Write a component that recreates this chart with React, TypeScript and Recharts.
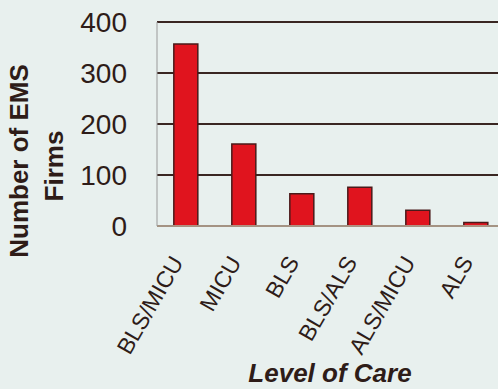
import { BarChart, Bar, XAxis, YAxis, CartesianGrid } from 'recharts'

const levels = ['BLS/MICU', 'MICU', 'BLS', 'BLS/ALS', 'ALS/MICU', 'ALS']
const firms = [357, 161, 63, 76, 31, 7]
const yTicks = [0, 100, 200, 300, 400]

const chartData = levels.map((level, i) => ({ level, firms: firms[i] }))

const ink = '#2e1c18'
const font = '"Liberation Sans", Arial, sans-serif'

function LevelTick({ x, y, payload }: any) {
  return (
    <text
      transform={`translate(${x - 2}, ${y + 28}) rotate(-60)`}
      textAnchor="end"
      fontSize={23}
      fontFamily={font}
      fill={ink}
    >
      {payload.value}
    </text>
  )
}

export default function App() {
  return (
    <div style={{ position: 'absolute', left: 0, top: 0, width: 498, height: 389, overflow: 'hidden', background: '#e8f0ee' }}>
      <BarChart
        width={520}
        height={389}
        data={chartData}
        margin={{ top: 22, right: 15, bottom: 33, left: 0 }}
        barCategoryGap="29%"
      >
        <CartesianGrid vertical={false} stroke="#3a2622" strokeWidth={2} />
        <XAxis
          dataKey="level"
          height={130}
          interval={0}
          tickLine={false}
          axisLine={{ stroke: '#c9b9a4', strokeWidth: 1.5 }}
          tick={<LevelTick />}
        />
        <YAxis
          width={157}
          domain={[0, 400]}
          ticks={yTicks}
          tickLine={false}
          axisLine={{ stroke: '#9a9a9a', strokeWidth: 1 }}
          tickMargin={24}
          tick={{ fontSize: 28, fontFamily: font, fill: ink }}
        />
        <Bar dataKey="firms" fill="#e0141e" stroke="#4a1a1a" strokeWidth={1.5} isAnimationActive={false} />
      </BarChart>
      <svg width={498} height={389} style={{ position: 'absolute', left: 0, top: 0, pointerEvents: 'none' }}>
        <text
          transform="translate(28, 161) rotate(-90)"
          textAnchor="middle"
          fontSize={26}
          fontWeight="bold"
          fontFamily={font}
          fill={ink}
        >
          Number of EMS
        </text>
        <text
          transform="translate(63, 166) rotate(-90)"
          textAnchor="middle"
          fontSize={26}
          fontWeight="bold"
          fontFamily={font}
          fill={ink}
        >
          Firms
        </text>
        <text
          x={330}
          y={382}
          textAnchor="middle"
          fontSize={26}
          fontWeight="bold"
          fontStyle="italic"
          fontFamily={font}
          fill={ink}
        >
          Level of Care
        </text>
      </svg>
    </div>
  )
}
